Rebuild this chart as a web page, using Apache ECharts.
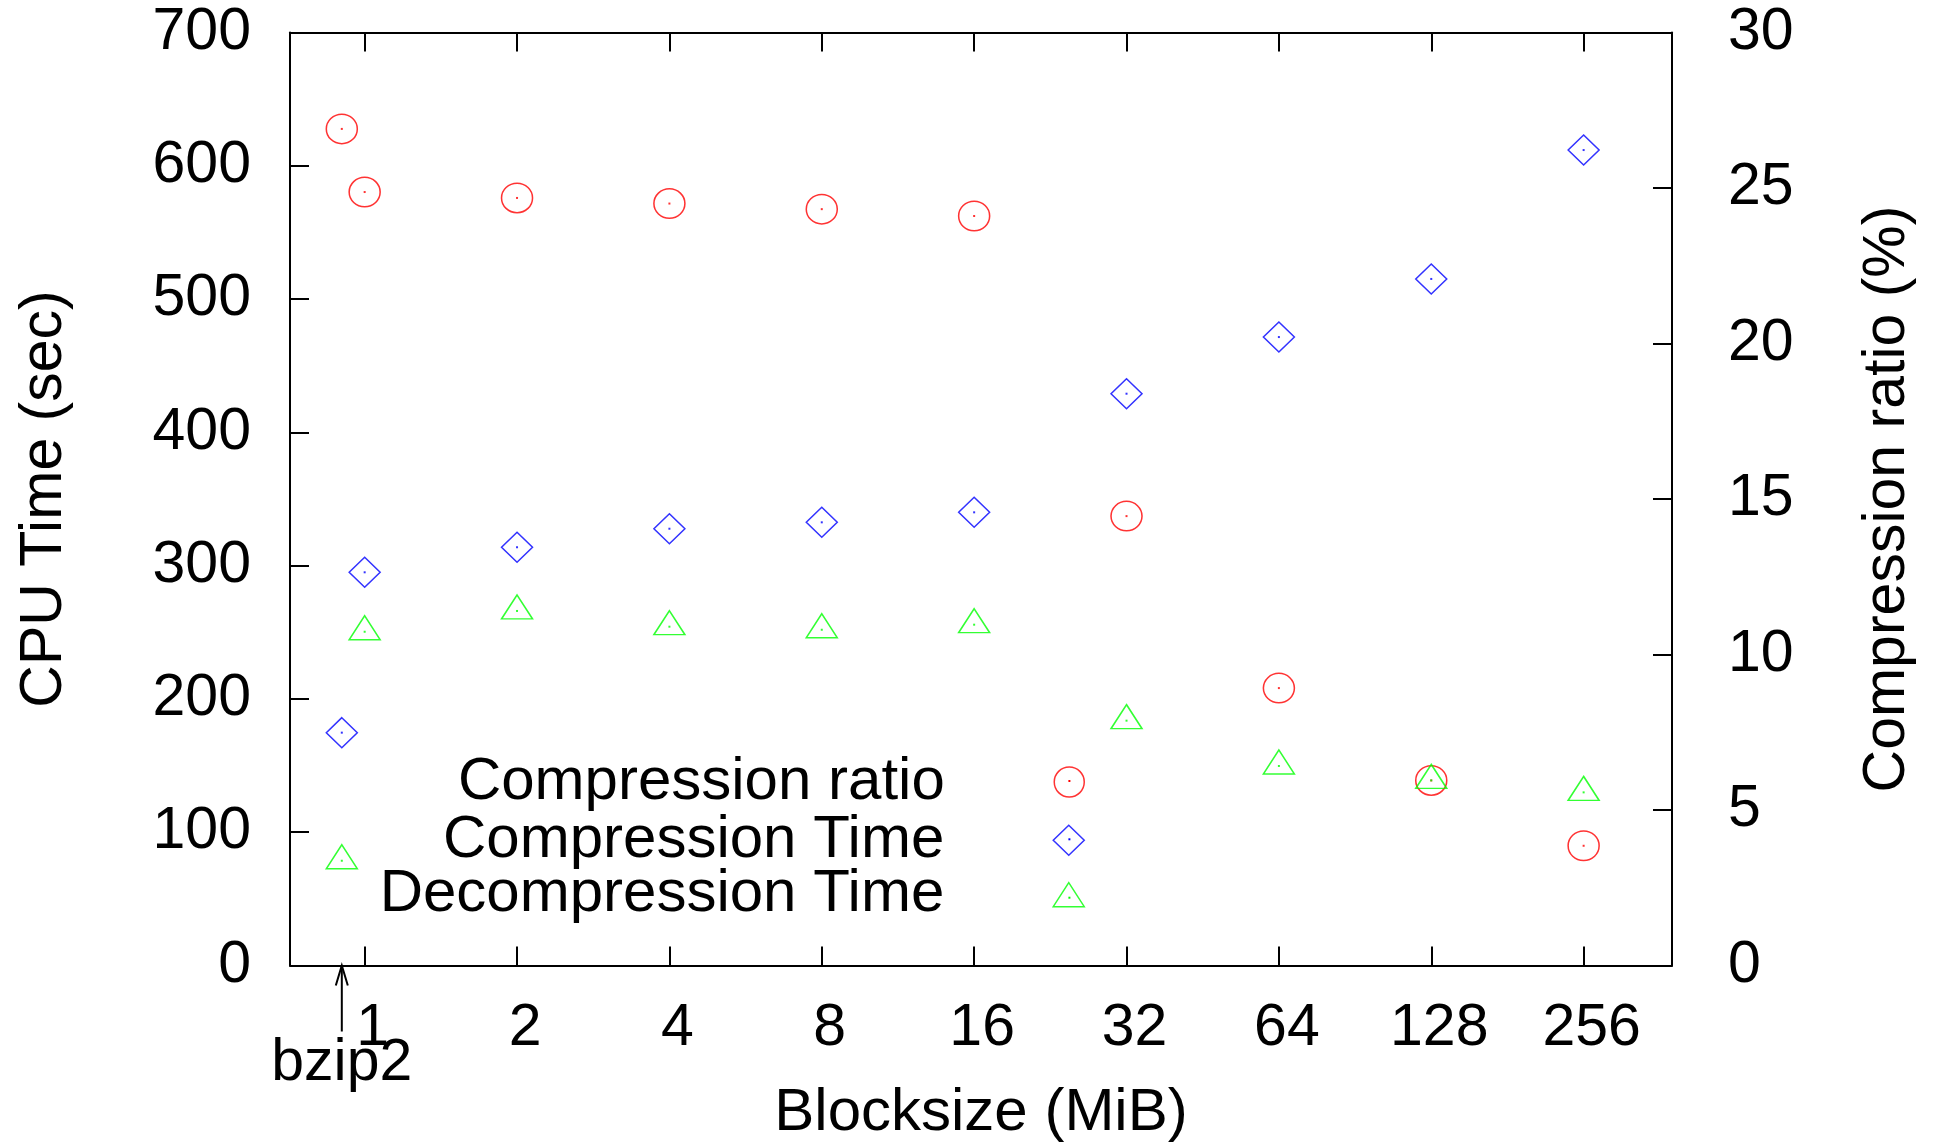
<!DOCTYPE html>
<html><head><meta charset="utf-8">
<script src="https://cdn.jsdelivr.net/npm/echarts@6/dist/echarts.min.js"></script>
<style>html,body{margin:0;padding:0;background:#fff}#c{width:1935px;height:1142px}</style>
</head><body><div id="c"></div>
<script>
// ---- data ----
const blocksizes = [1, 2, 4, 8, 16, 32, 64, 128, 256];           // MiB
const xTickLabels = ['1', '2', '4', '8', '16', '32', '64', '128', '256'];
const bzip2Label = 'bzip2';
const bzip2Pos = -0.15;                                          // position of bzip2 on log2 axis
// first entry of every series is bzip2, then blocksizes 1..256
const compressionRatio = [26.90, 24.87, 24.68, 24.50, 24.32, 24.10, 14.45, 8.92, 5.95, 3.85];
const compressionTime  = [174.7, 295.0, 313.8, 327.7, 332.5, 340.0, 429.0, 471.5, 515.1, 611.8];
const decompressionTime = [78.6, 250.4, 266.0, 254.2, 251.9, 255.7, 183.7, 149.7, 138.9, 129.9];
const seriesNames = ['Compression ratio', 'Compression Time', 'Decompression Time'];
const seriesColors = ['#ff0000', '#0000ff', '#00ff00'];

const FONT = 'Liberation Sans, Arial, Helvetica, sans-serif';
const FS = 59;
const LFS = 60;
const xPos = [bzip2Pos].concat(blocksizes.map(b => Math.log2(b)));
const xTickVals = blocksizes.map(b => Math.log2(b));
const pairs = arr => arr.map((v, i) => [xPos[i], v]);

const chart = echarts.init(document.getElementById('c'), null, {renderer: 'canvas'});

const axisLineStyle = {color: '#000', width: 2};
const mkLegend = (name, top, h) => ({
  data: [name], orient: 'vertical', align: 'right', padding: 0,
  right: 850, top: top, itemWidth: 31, itemHeight: h, selectedMode: false,
  itemStyle: {borderWidth: 1.5},
  textStyle: {fontSize: LFS, fontFamily: FONT, color: '#000', lineHeight: 58, padding: [0, 104, 0, 0]}
});
const dotSeries = (data, yIdx, color) => ({
  type: 'scatter', data: data, yAxisIndex: yIdx, symbol: 'rect', symbolSize: 2,
  silent: true, itemStyle: {color: color}, z: 3
});

chart.setOption({
  animation: false,
  backgroundColor: '#fff',
  textStyle: {fontFamily: FONT},
  grid: {left: 290, right: 263, top: 32.5, bottom: 176.5, containLabel: false, outerBoundsMode: 'none'},
  legend: [
    mkLegend(seriesNames[0], 752, 30),
    mkLegend(seriesNames[1], 810.3, 30),
    mkLegend(seriesNames[2], 864.7, 24)
  ],
  xAxis: [{
    type: 'value', min: -0.49, max: 8.58, position: 'bottom',
    name: 'Blocksize (MiB)', nameLocation: 'middle', nameGap: 118,
    nameTextStyle: {fontSize: LFS, fontFamily: FONT, color: '#000'},
    axisLine: {show: true, onZero: false, lineStyle: axisLineStyle},
    axisTick: {show: true, inside: true, length: 19, lineStyle: axisLineStyle, customValues: xTickVals},
    axisLabel: {show: true, fontSize: FS, fontFamily: FONT, color: '#000', margin: 34,
      padding: [0, 0, 0, 16], customValues: xTickVals,
      formatter: v => xTickLabels[xTickVals.indexOf(v)] ?? ''},
    splitLine: {show: false}
  }, {
    type: 'value', min: -0.49, max: 8.58, position: 'top',
    axisLine: {show: true, onZero: false, lineStyle: axisLineStyle},
    axisTick: {show: true, inside: true, length: 19, lineStyle: axisLineStyle, customValues: xTickVals},
    axisLabel: {show: false},
    splitLine: {show: false}
  }],
  yAxis: [{
    type: 'value', min: 0, max: 700, interval: 100, position: 'left',
    name: 'CPU Time (sec)', nameLocation: 'middle', nameGap: 216, nameRotate: 90,
    nameTextStyle: {fontSize: FS, fontFamily: FONT, color: '#000'},
    axisLine: {show: true, onZero: false, lineStyle: axisLineStyle},
    axisTick: {show: true, inside: true, length: 19, lineStyle: axisLineStyle},
    axisLabel: {fontSize: FS, fontFamily: FONT, color: '#000', margin: 39},
    splitLine: {show: false}
  }, {
    type: 'value', min: 0, max: 30, interval: 5, position: 'right',
    name: 'Compression ratio (%)', nameLocation: 'middle', nameGap: 186, nameRotate: 90,
    nameTextStyle: {fontSize: FS, fontFamily: FONT, color: '#000'},
    axisLine: {show: true, onZero: false, lineStyle: axisLineStyle},
    axisTick: {show: true, inside: true, length: 19, lineStyle: axisLineStyle},
    axisLabel: {fontSize: FS, fontFamily: FONT, color: '#000', margin: 56},
    splitLine: {show: false}
  }],
  series: [{
    name: seriesNames[0], type: 'scatter', yAxisIndex: 1, data: pairs(compressionRatio),
    symbol: 'circle', symbolSize: [31, 29.5],
    itemStyle: {color: 'rgba(0,0,0,0)', borderColor: seriesColors[0], borderWidth: 1.5}
  }, {
    name: seriesNames[1], type: 'scatter', yAxisIndex: 0, data: pairs(compressionTime),
    symbol: 'diamond', symbolSize: [31, 30],
    itemStyle: {color: 'rgba(0,0,0,0)', borderColor: seriesColors[1], borderWidth: 1.5}
  }, {
    name: seriesNames[2], type: 'scatter', yAxisIndex: 0, data: pairs(decompressionTime),
    symbol: 'triangle', symbolSize: [31, 24], symbolOffset: [0, -4],
    itemStyle: {color: 'rgba(0,0,0,0)', borderColor: seriesColors[2], borderWidth: 1.5}
  },
  dotSeries(pairs(compressionRatio), 1, seriesColors[0]),
  dotSeries(pairs(compressionTime), 0, seriesColors[1]),
  dotSeries(pairs(decompressionTime), 0, seriesColors[2])
  ]
});

// bzip2 annotation arrow, placed through the axis scale
const p = chart.convertToPixel({xAxisIndex: 0, yAxisIndex: 0}, [bzip2Pos, 0]);
// centre dots of the legend keys
const legendDotY = [781, 839.3, 897.7];
const legendDots = legendDotY.map((y, i) => ({
  type: 'rect', shape: {x: 1069.4 - 1, y: y - 1, width: 2, height: 2},
  style: {fill: seriesColors[i]}, z: 10, silent: true
}));
chart.setOption({
  graphic: [
    {type: 'line', shape: {x1: p[0], y1: p[1] + 66, x2: p[0], y2: p[1]},
     style: {stroke: '#000', lineWidth: 2}, z: 10},
    {type: 'polyline', shape: {points: [[p[0] - 6, p[1] + 20], [p[0], p[1]], [p[0] + 6, p[1] + 20]]},
     style: {stroke: '#000', lineWidth: 2, fill: null}, z: 10},
    {type: 'text', x: p[0], y: p[1] + 98,
     style: {text: bzip2Label, font: FS + 'px ' + FONT, fill: '#000', align: 'center', verticalAlign: 'middle'}, z: 10}
  ].concat(legendDots)
});
</script>
</body></html>
